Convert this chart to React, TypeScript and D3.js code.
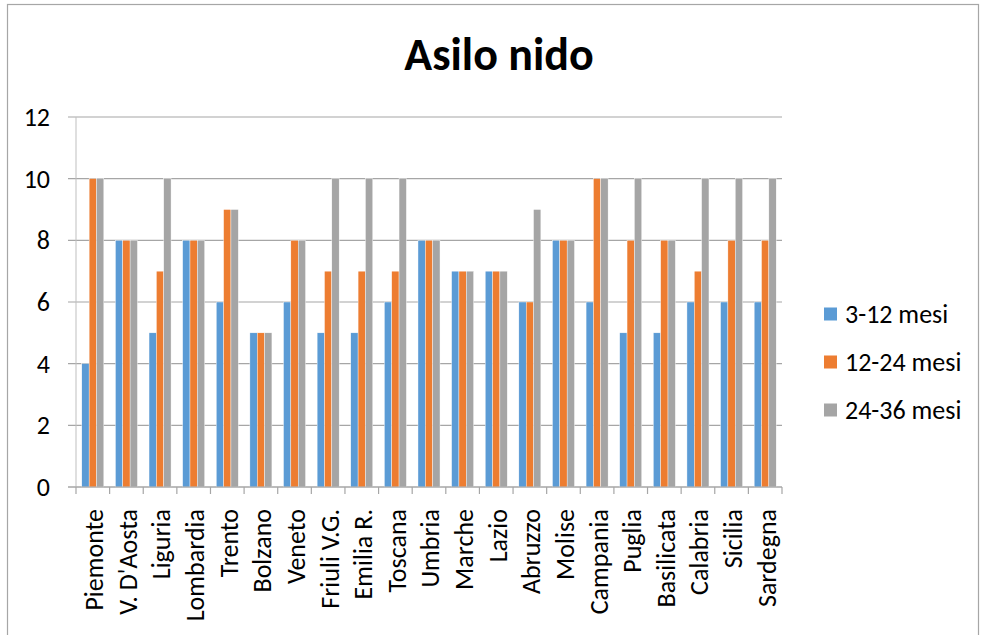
import React from "react";
import * as d3 from "d3";

const categories = [
  "Piemonte", "V. D'Aosta", "Liguria", "Lombardia", "Trento", "Bolzano", "Veneto",
  "Friuli V.G.", "Emilia R.", "Toscana", "Umbria", "Marche", "Lazio", "Abruzzo",
  "Molise", "Campania", "Puglia", "Basilicata", "Calabria", "Sicilia", "Sardegna",
];
const series1 = [4, 8, 5, 8, 6, 5, 6, 5, 5, 6, 8, 7, 7, 6, 8, 6, 5, 5, 6, 6, 6];
const series2 = [10, 8, 7, 8, 9, 5, 8, 7, 7, 7, 8, 7, 7, 6, 8, 10, 8, 8, 7, 8, 8];
const series3 = [10, 8, 10, 8, 9, 5, 8, 10, 10, 10, 8, 7, 7, 9, 8, 10, 10, 8, 10, 10, 10];
const seriesNames = ["3-12 mesi", "12-24 mesi", "24-36 mesi"];
const yTicks = [0, 2, 4, 6, 8, 10, 12];
const title = "Asilo nido";

const colors = ["#5B9BD5", "#ED7D31", "#A5A5A5"];
const FONT = "Carlito, Calibri, Lato, sans-serif";

export default function App() {
  const W = 982, H = 635;
  const left = 76, right = 782, top = 117, bottom = 487;
  const x = d3.scaleBand<string>().domain(categories).range([left, right]).paddingInner(0).paddingOuter(0);
  const y = d3.scaleLinear().domain([0, 12]).range([bottom, top]);
  const bw = x.bandwidth();
  const groupW = bw * 0.655;
  const inner = d3.scaleBand<number>().domain([0, 1, 2]).range([0, groupW]).padding(0);
  const off = (bw - groupW) / 2;
  const all = [series1, series2, series3];

  return (
    <svg width={W} height={H} style={{ position: "absolute", left: 0, top: 0, background: "#fff" }} fontFamily={FONT}>
      <rect x={0} y={0} width={W} height={H} fill="#fff" />
      <rect x={7.5} y={4.5} width={971} height={700} fill="none" stroke="#A6A6A6" strokeWidth={1.2} />
      <text x={499} y={70} textAnchor="middle" fontSize={46} fontWeight="bold" fill="#000">{title}</text>
      {yTicks.map((t) => (
        <g key={t}>
          <line x1={68} x2={right} y1={y(t)} y2={y(t)} stroke="#A6A6A6" strokeWidth={1.2} />
          <text x={50} y={y(t)} dy="0.35em" textAnchor="end" fontSize={26} fill="#000">{t}</text>
        </g>
      ))}
      <line x1={left} x2={left} y1={top} y2={bottom} stroke="#BFBFBF" strokeWidth={1} />
      {categories.map((c, i) => (
        <g key={c}>
          {all.map((s, k) => (
            <rect key={k} x={(x(c) as number) + off + (inner(k) as number)} y={y(s[i])}
              width={inner.bandwidth()} height={y(0) - y(s[i])} fill={colors[k]} stroke="#fff" strokeWidth={0.4} />
          ))}
        </g>
      ))}
      <line x1={68} x2={right} y1={bottom} y2={bottom} stroke="#A6A6A6" strokeWidth={1.2} />
      {categories.concat([""]).map((c, i) => {
        const xx = left + i * bw;
        return <line key={"t" + i} x1={xx} x2={xx} y1={bottom} y2={bottom + 7} stroke="#A6A6A6" strokeWidth={1.2} />;
      })}
      {categories.map((c) => {
        const cx = (x(c) as number) + bw / 2;
        return (
          <text key={"l" + c} transform={`translate(${cx},509) rotate(-90)`} dy="0.4em" textAnchor="end" fontSize={26} fill="#000">{c}</text>
        );
      })}
      {seriesNames.map((n, k) => {
        const cy = 314 + k * 48;
        return (
          <g key={n}>
            <rect x={824} y={cy - 6.5} width={13} height={13} fill={colors[k]} />
            <text x={845} y={cy} dy="0.35em" fontSize={26} fill="#000">{n}</text>
          </g>
        );
      })}
    </svg>
  );
}
